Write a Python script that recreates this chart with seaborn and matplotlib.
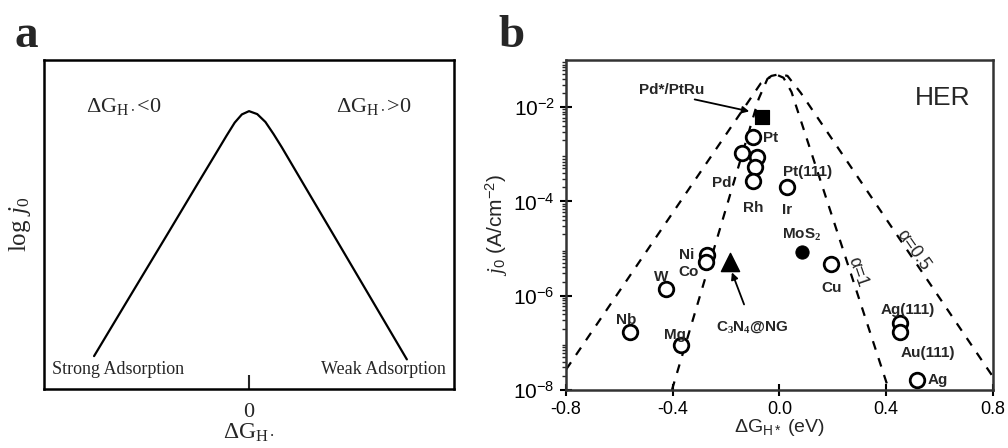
import numpy as np
import pandas as pd
import matplotlib
matplotlib.use("Agg")
import matplotlib.pyplot as plt
from matplotlib.ticker import LogLocator, NullFormatter, FixedLocator
import seaborn as sns

sns.set_style("white")
plt.rcParams["font.family"] = ["Liberation Sans", "DejaVu Sans"]
plt.rcParams["mathtext.fontset"] = "custom"
plt.rcParams["mathtext.rm"] = "Liberation Serif"
plt.rcParams["mathtext.it"] = "Liberation Serif:italic"
plt.rcParams["mathtext.bf"] = "Liberation Serif:bold"
plt.rcParams["mathtext.sf"] = "Liberation Sans"

# ---------------- Panel a: schematic volcano ----------------
volcano_x = [-0.756, -0.60, -0.395, -0.25, -0.161, -0.11, -0.07, -0.035, 0.0,
             0.04, 0.08, 0.12, 0.16, 0.30, 0.41, 0.60, 0.77]
volcano_y = [0.100, 0.262, 0.474, 0.625, 0.717, 0.770, 0.810, 0.835, 0.845,
             0.836, 0.812, 0.775, 0.735, 0.587, 0.471, 0.270, 0.090]

# ---------------- Panel b: HER volcano data ----------------
open_names = ["Pt", "c1", "c2", "c3", "c4", "Pt(111)", "Cu", "Ag(111)", "Au(111)",
              "Ag", "Ni", "Co", "W", "Nb", "Mg"]
open_dG = [-0.100, -0.142, -0.085, -0.092, -0.100, 0.028, 0.193, 0.451, 0.451,
           0.514, -0.273, -0.276, -0.425, -0.560, -0.370]
open_j0 = [2.3e-3, 1.05e-3, 8.7e-4, 5.4e-4, 2.7e-4, 2.0e-4, 4.7e-6, 2.6e-7, 1.7e-7,
           1.6e-8, 7.2e-6, 5.2e-6, 1.4e-6, 1.7e-7, 9.0e-8]

ptru_dG = [-0.067]
ptru_j0 = [6.3e-3]
mos2_dG = [0.083]
mos2_j0 = [8.3e-6]
c3n4_dG = [-0.185]
c3n4_j0 = [5.2e-6]

# theoretical volcano lines (alpha = 0.5 outer, alpha = 1 inner)
alpha05_dG = [-0.80, -0.07, -0.03, 0.0, 0.03, 0.08, 0.80]
alpha05_j0 = [2.7e-8, 3.2e-2, 4.6e-2, 5.0e-2, 4.6e-2, 2.0e-2, 1.9e-8]
alpha1_dG = [-0.403, -0.078, -0.045, -0.015, 0.015, 0.045, 0.41]
alpha1_j0 = [1.0e-8, 1.5e-2, 4.0e-2, 5.0e-2, 4.2e-2, 2.1e-2, 1.0e-8]

xticks_b = [-0.8, -0.4, 0.0, 0.4, 0.8]
xticklabels_b = ["-0.8", "-0.4", "0.0", "0.4", "0.8"]
yticks_b = [1e-8, 1e-6, 1e-4, 1e-2]
yticklabels_b = ["$\\mathsf{10^{-8}}$", "$\\mathsf{10^{-6}}$",
                 "$\\mathsf{10^{-4}}$", "$\\mathsf{10^{-2}}$"]

fig = plt.figure(figsize=(10.08, 4.48), dpi=100)
axa = fig.add_axes([0.0437, 0.1317, 0.4067, 0.734])
axb = fig.add_axes([0.5615, 0.1295, 0.4236, 0.7366])

serif = "Liberation Serif"

# ---- panel a ----
sns.lineplot(x=volcano_x, y=volcano_y, ax=axa, color="black", lw=1.6, sort=False)
axa.set_xlim(-1, 1)
axa.set_ylim(0, 1)
axa.set_xticks([0])
axa.set_xticklabels(["0"], fontfamily=serif, fontsize=16)
axa.set_yticks([])
axa.tick_params(axis="x", direction="in", length=10, width=1.5, pad=10, bottom=True)
for s in axa.spines.values():
    s.set_linewidth(1.8)
    s.set_color("black")
axa.set_xlabel(r"$\Delta$G$_{\mathrm{H\bullet}}$", fontfamily=serif, fontsize=17, labelpad=0)
axa.set_ylabel(r"log $j_0$", fontfamily=serif, fontsize=18, labelpad=8)
axa.text(-0.61, 0.86, r"$\Delta$G$_{\mathrm{H\bullet}}$<0", fontfamily=serif, fontsize=16,
         ha="center", va="center")
axa.text(0.61, 0.86, r"$\Delta$G$_{\mathrm{H\bullet}}$>0", fontfamily=serif, fontsize=16,
         ha="center", va="center")
axa.text(-0.96, 0.06, "Strong Adsorption", fontfamily=serif, fontsize=13,
         ha="left", va="center")
axa.text(0.96, 0.06, "Weak Adsorption", fontfamily=serif, fontsize=13,
         ha="right", va="center")
fig.text(14 / 1008, 1 - 47 / 448, "a", fontfamily=serif, fontweight="bold", fontsize=34)
fig.text(498 / 1008, 1 - 47 / 448, "b", fontfamily=serif, fontweight="bold", fontsize=34)

# ---- panel b ----
axb.set_yscale("log")
dash = (4, 4)
sns.lineplot(x=alpha05_dG, y=alpha05_j0, ax=axb, color="black", lw=1.6, sort=False,
             linestyle=(0, dash))
sns.lineplot(x=alpha1_dG, y=alpha1_j0, ax=axb, color="black", lw=1.6, sort=False,
             linestyle=(0, dash))

sns.scatterplot(x=open_dG, y=open_j0, ax=axb, marker="o", s=110, facecolor="white",
                edgecolor="black", linewidth=2.0, zorder=3)
sns.scatterplot(x=ptru_dG, y=ptru_j0, ax=axb, marker="s", s=110, color="black",
                edgecolor="black", zorder=3)
sns.scatterplot(x=mos2_dG, y=mos2_j0, ax=axb, marker="o", s=90, color="black",
                edgecolor="black", zorder=3)
sns.scatterplot(x=c3n4_dG, y=c3n4_j0, ax=axb, marker="^", s=170, color="black",
                edgecolor="black", zorder=3)

axb.set_xlim(-0.8, 0.8)
axb.set_ylim(1e-8, 1e-1)
axb.set_xticks(xticks_b)
axb.set_xticklabels(xticklabels_b, fontsize=13)
axb.yaxis.set_major_locator(FixedLocator(yticks_b))
axb.set_yticklabels(yticklabels_b, fontsize=15)
axb.yaxis.set_minor_locator(LogLocator(base=10, subs=np.arange(2, 10), numticks=20))
axb.yaxis.set_minor_formatter(NullFormatter())
axb.tick_params(axis="both", which="major", direction="inout", length=9, width=1.5,
                left=True, bottom=True, colors="black")
axb.tick_params(axis="y", which="minor", direction="out", length=3, width=1, left=True)
for s in axb.spines.values():
    s.set_linewidth(1.8)
    s.set_color("#333333")
axb.set_xlabel(r"$\mathsf{\Delta G_{H*}}$ (eV)", fontsize=14, labelpad=-1)
axb.set_ylabel(r"$\mathsf{\mathit{j}_0}$ (A/cm$^{\mathsf{-2}}$)", fontsize=15, labelpad=2)

lab = dict(fontsize=11, fontweight="bold", ha="center", va="center")
axb.text(0.612, 1.55e-2, "HER", fontsize=19, ha="center", va="center")
axb.annotate("", xy=(-0.103, 7.9e-3), xytext=(-0.328, 1.5e-2),
             arrowprops=dict(arrowstyle="-|>", color="black", lw=1.3, mutation_scale=10))
axb.text(-0.403, 2.3e-2, "Pd*/PtRu", **lab)
axb.text(-0.062, 10 ** -2.65, "Pt", fontsize=11, fontweight="bold", ha="left", va="center")
axb.text(-0.215, 2.45e-4, "Pd", **lab)
axb.text(-0.099, 7.2e-5, "Rh", **lab)
axb.text(0.107, 4.2e-4, "Pt(111)", **lab)
axb.text(0.028, 6.6e-5, "Ir", **lab)
axb.text(0.084, 1.95e-5, r"MoS$_\mathbf{2}$", **lab)
axb.text(0.197, 1.45e-6, "Cu", **lab)
axb.text(0.481, 5.0e-7, "Ag(111)", **lab)
axb.text(0.556, 6.0e-8, "Au(111)", **lab)
axb.text(0.556, 10 ** -7.79, "Ag", fontsize=11, fontweight="bold", ha="left", va="center")
axb.text(-0.346, 10 ** -5.14, "Ni", **lab)
axb.text(-0.339, 10 ** -5.50, "Co", **lab)
axb.text(-0.444, 10 ** -5.60, "W", **lab)
axb.text(-0.575, 10 ** -6.52, "Nb", **lab)
axb.text(-0.391, 10 ** -6.83, "Mg", **lab)
axb.text(-0.103, 10 ** -6.66, r"C$_\mathbf{3}$N$_\mathbf{4}$@NG", **lab)
axb.annotate("", xy=(-0.182, 10 ** -5.45), xytext=(-0.129, 10 ** -6.24),
             arrowprops=dict(arrowstyle="-|>", color="black", lw=1.3, mutation_scale=10))
axb.text(0.294, 10 ** -5.50, "α=1", fontsize=13, rotation=-71, ha="center", va="center")
axb.text(0.50, 10 ** -5.03, "α=0.5", fontsize=13, rotation=-55, ha="center", va="center")

fig.savefig("out.png", dpi=100)
